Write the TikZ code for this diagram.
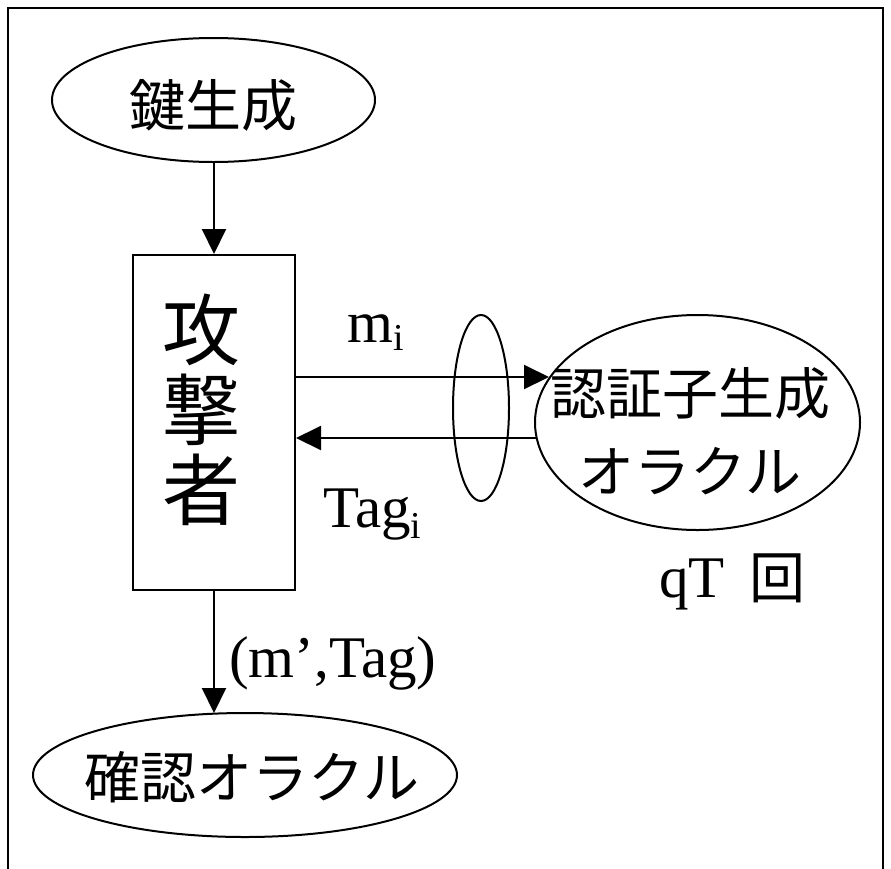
\documentclass[tikz,border=0pt]{standalone}
\usepackage{fontspec}
\setmainfont{Liberation Serif}
\newfontfamily\jp{Noto Sans CJK JP}
\usetikzlibrary{arrows.meta,shapes.geometric}
\begin{document}
\begin{tikzpicture}[x=1pt,y=-1pt,
  ln/.style={line width=2pt},
  arr/.style={line width=2pt,-{Triangle[length=25pt,width=24pt]}},
  oval/.style={draw,line width=2pt,ellipse,inner sep=0pt},
  jptext/.style={font=\fontsize{56}{78}\selectfont\jp,inner sep=0pt,align=center},
  bigjp/.style={font=\fontsize{78}{80}\selectfont\jp,inner sep=0pt,align=center},
  lat/.style={font=\fontsize{59}{59}\selectfont,inner sep=0pt,anchor=base west}
]
\useasboundingbox (0,0) rectangle (891,868);
\draw[line width=1.5pt] (8,880) -- (8,8) -- (883,8) -- (883,880);

% nodes
\node[oval,minimum width=323pt,minimum height=124pt] (keygen) at (213.5,100) {};
\node[jptext] (keygenT) at (213,105) {鍵生成};

\node[draw,line width=2pt,minimum width=162pt,minimum height=335pt,inner sep=0pt] (atk) at (214,422.5) {};
\node[bigjp] (atkT) at (201,410) {攻\\撃\\者};

\node[oval,minimum width=325pt,minimum height=215pt] (oracle) at (697.5,422.5) {};
\node[jptext] (oracleT) at (690,431) {認証子生成\\オラクル};

\node[oval,minimum width=56pt,minimum height=186pt] (loop) at (481,408) {};

\node[oval,minimum width=424pt,minimum height=124pt] (verify) at (245,775) {};
\node[jptext] (verifyT) at (252,777) {確認オラクル};

% labels
\node[lat] (mi) at (347,342) {m\raisebox{-8pt}{\fontsize{38}{38}\selectfont i}};
\node[lat] (tagi) at (323,527) {Tag\raisebox{-11pt}{\fontsize{38}{38}\selectfont i}};
\node[lat] (qt) at (659,597) {qT};
\node[font=\fontsize{56}{56}\selectfont\jp,inner sep=0pt] (kai) at (777,578) {回};
\node[lat] (mtag) at (229,677) {(m’,Tag)};

% connectors
\coordinate (miA) at (atk.east |- 0,377);
\coordinate (miB) at (549,377);
\coordinate (tgA) at (537,438);
\coordinate (tgB) at (atk.east |- 0,438);
\coordinate (vTop) at (214,713);

\draw[arr] (keygen.south -| atk.north) -- (atk.north);
\draw[arr] (miA) -- (miB);
\draw[arr] (tgA) -- (tgB);
\draw[arr] (atk.south) -- (vTop);
\end{tikzpicture}
\end{document}
